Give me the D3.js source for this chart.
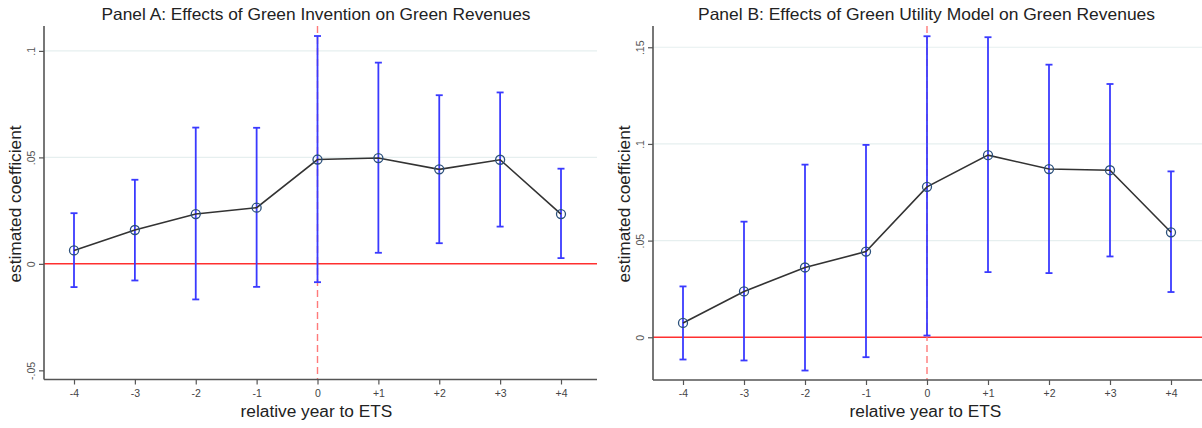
<!DOCTYPE html>
<html><head><meta charset="utf-8">
<script src="https://cdn.jsdelivr.net/npm/d3@7"></script>
<style>body{margin:0;background:#fff;}svg{display:block;font-family:"Liberation Sans",Arial,sans-serif;}</style>
</head><body>
<svg id="c" width="1202" height="428"></svg>
<script>
const years = [-4,-3,-2,-1,0,1,2,3,4];
const yearLabels = ["-4","-3","-2","-1","0","+1","+2","+3","+4"];

const titleA = "Panel A: Effects of Green Invention on Green Revenues";
const coefA = [0.0063,0.0159,0.0234,0.0264,0.0490,0.0497,0.0444,0.0489,0.0234];
const upperA = [0.0238,0.0395,0.0640,0.0639,0.1070,0.0945,0.0792,0.0805,0.0447];
const lowerA = [-0.0109,-0.0078,-0.0167,-0.0108,-0.0086,0.0052,0.0097,0.0175,0.0027];
const yTicksA = [-0.05,0,0.05,0.1];
const yTickLabelsA = ["-.05","0",".05",".1"];
const yDomainA = [-0.0543,0.1117];

const titleB = "Panel B: Effects of Green Utility Model on Green Revenues";
const coefB = [0.0074,0.0237,0.0361,0.0443,0.0778,0.0942,0.0870,0.0864,0.0543];
const upperB = [0.0263,0.0598,0.0893,0.0995,0.1557,0.1552,0.1410,0.1310,0.0858];
const lowerB = [-0.0115,-0.0120,-0.0172,-0.0103,0.0009,0.0337,0.0332,0.0418,0.0234];
const yTicksB = [0,0.05,0.1,0.15];
const yTickLabelsB = ["0",".05",".1",".15"];
const yDomainB = [-0.0221,0.161];

const xLabel = "relative year to ETS";
const yLabel = "estimated coefficient";

const svg = d3.select("#c");

function panel(o){
  const g = svg.append("g");
  const x = d3.scaleLinear().domain([-4,4]).range([o.x0,o.x1]);
  const y = d3.scaleLinear().domain(o.yDomain).range([o.bottom,o.top]);
  g.selectAll(".grid").data(o.yTicks.filter(d=>d>0)).enter().append("line")
    .attr("x1",o.left).attr("x2",o.right).attr("y1",d=>y(d)).attr("y2",d=>y(d))
    .attr("stroke","#e6efef").attr("stroke-width",1.2);
  g.append("line").attr("x1",o.left).attr("x2",o.right).attr("y1",y(0)).attr("y2",y(0))
    .attr("stroke","#ff3030").attr("stroke-width",1.5);
  g.append("line").attr("x1",x(0)).attr("x2",x(0)).attr("y1",o.top).attr("y2",o.bottom)
    .attr("stroke","#ff7a7a").attr("stroke-width",1.4).attr("stroke-dasharray","7,4");
  const ya = d3.axisLeft(y).tickValues(o.yTicks).tickFormat((d,i)=>o.yTickLabels[i]).tickSize(5).tickSizeOuter(0);
  const yg = g.append("g").attr("transform",`translate(${o.left},0)`).call(ya);
  yg.select(".domain").attr("stroke","#555").attr("stroke-width",1.6).attr("d",`M0,${o.top}V${o.bottom}`);
  yg.selectAll(".tick line").attr("stroke","#555").attr("stroke-width",1.2);
  yg.selectAll(".tick text").attr("fill","#555").attr("font-size",10.5)
    .attr("transform","rotate(-90)").attr("x",0).attr("y",-9).attr("dy",0)
    .attr("text-anchor","middle");
  const xa = d3.axisBottom(x).tickValues(years).tickFormat((d,i)=>yearLabels[i]).tickSize(5).tickSizeOuter(0);
  const xg = g.append("g").attr("transform",`translate(0,${o.bottom})`).call(xa);
  xg.select(".domain").attr("stroke","#555").attr("stroke-width",1.6).attr("d",`M${o.left},0H${o.right}`);
  xg.selectAll(".tick line").attr("stroke","#555").attr("stroke-width",1.2);
  xg.selectAll(".tick text").attr("fill","#444").attr("font-size",10.5).attr("y",10).attr("dy","0.71em");
  const ci = g.append("g").attr("stroke","#3a3aff").attr("stroke-width",1.8);
  years.forEach((yr,i)=>{
    ci.append("line").attr("x1",x(yr)).attr("x2",x(yr)).attr("y1",y(o.upper[i])).attr("y2",y(o.lower[i]));
    ci.append("line").attr("x1",x(yr)-3.5).attr("x2",x(yr)+3.5).attr("y1",y(o.upper[i])).attr("y2",y(o.upper[i]));
    ci.append("line").attr("x1",x(yr)-3.5).attr("x2",x(yr)+3.5).attr("y1",y(o.lower[i])).attr("y2",y(o.lower[i]));
  });
  g.append("path").datum(years.map((yr,i)=>[yr,o.coef[i]]))
    .attr("d",d3.line().x(d=>x(d[0])).y(d=>y(d[1])))
    .attr("fill","none").attr("stroke","#333").attr("stroke-width",1.6);
  g.selectAll(".pt").data(years).enter().append("circle")
    .attr("cx",d=>x(d)).attr("cy",(d,i)=>y(o.coef[i])).attr("r",4.5)
    .attr("fill","none").attr("stroke","#2a4f7a").attr("stroke-width",1.3);
  g.append("text").attr("x",o.titleX).attr("y",20).attr("text-anchor","middle")
    .attr("font-size",16.5).attr("fill","#222")
    .attr("textLength",o.titleW).attr("lengthAdjust","spacingAndGlyphs").text(o.title);
  g.append("text").attr("x",316.5 + (o.left-44)).attr("y",416.5).attr("text-anchor","middle")
    .attr("font-size",17.3).attr("fill","#222").text(xLabel);
  g.append("text").attr("transform",`translate(${o.yLabelX},${o.yLabelY}) rotate(-90)`)
    .attr("text-anchor","middle").attr("font-size",17.3).attr("fill","#222").text(yLabel);
}

panel({title:titleA,coef:coefA,upper:upperA,lower:lowerA,yTicks:yTicksA,yTickLabels:yTickLabelsA,yDomain:yDomainA,
  left:44,right:597,x0:74,x1:561,top:26,bottom:379.5,titleX:316,titleW:429,yLabelX:20.5,yLabelY:204});
panel({title:titleB,coef:coefB,upper:upperB,lower:lowerB,yTicks:yTicksB,yTickLabels:yTickLabelsB,yDomain:yDomainB,
  left:653,right:1202,x0:683,x1:1171,top:26,bottom:380,titleX:926.5,titleW:457,yLabelX:629.5,yLabelY:204});
</script>
</body></html>
